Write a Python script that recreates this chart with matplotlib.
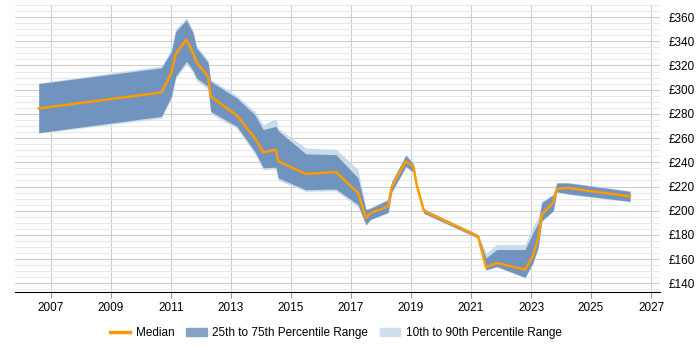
import matplotlib
matplotlib.use('Agg')
import matplotlib.pyplot as plt
from matplotlib.patches import Patch
from matplotlib.lines import Line2D
from matplotlib.ticker import MultipleLocator, FuncFormatter

plt.rcParams['font.family'] = ['Liberation Sans', 'DejaVu Sans']

# fractional years
years = [2006.6, 2010.69, 2011.02, 2011.16, 2011.52, 2011.74, 2011.86, 2012.24,
         2012.33, 2013.2, 2013.8, 2014.08, 2014.5, 2014.58, 2015.5, 2016.5,
         2017.24, 2017.5, 2017.66, 2018.24, 2018.36, 2018.83, 2019.08, 2019.19,
         2019.43, 2021.24, 2021.5, 2021.86, 2022.8, 2023.06, 2023.24, 2023.36,
         2023.74, 2023.86, 2024.24, 2026.3]
median = [284.5, 297.7, 313.7, 329.4, 341.3, 330.3, 322.5, 311, 294.4, 278.7,
          260, 248.2, 250.4, 240.8, 230.4, 232, 214.7, 194, 198.2, 203.6, 220,
          240.8, 236.6, 221.6, 200, 178.8, 153.3, 156.9, 151.4, 162.5, 177.5,
          196.8, 207, 218, 218.8, 211.9]
p25 = [264.5, 278, 294.5, 311, 323.5, 316, 309.6, 302.7, 282, 269.7, 249, 235.5,
       236, 227, 217.4, 218, 205, 188.5, 193, 198.7, 215.6, 236.7, 232, 219, 198,
       177.5, 151.3, 154, 145, 157, 170, 191.8, 200, 215.7, 214, 207.8]
p75 = [305, 318, 331.5, 348, 357.5, 347, 334.4, 322.5, 306.8, 293.1, 279.3, 267,
       269.7, 266, 247, 246.3, 227, 200.9, 202, 209.1, 224, 245.8, 238.5, 223,
       201.3, 180, 161, 168, 168, 181.6, 190, 206.8, 213, 222.9, 222.9, 216]
p10 = [264, 276.5, 292.5, 309, 321, 314, 307.5, 300.5, 280, 268, 247, 234, 234.5,
       225, 216, 216.5, 203, 188, 192.5, 198.2, 215, 236, 231.5, 218.5, 197.5,
       177, 150.8, 153.5, 144.5, 156, 169, 191, 199.5, 215.2, 213.5, 207.3]
p90 = [305.5, 319.5, 333.5, 350, 359.5, 349, 336, 324.5, 308.5, 295, 282, 271,
       276, 268, 251.8, 250.8, 233.9, 201.5, 203, 209.6, 224.5, 246.5, 239, 223.5,
       201.8, 180.5, 165, 172, 172, 187, 194, 208, 214, 223.4, 223.4, 216.5]

xticks = list(range(2007, 2028, 2))

fig = plt.figure(figsize=(7, 3.5), dpi=100)
ax = fig.add_axes([0.021, 0.166, 0.922, 0.82])

ax.fill_between(years, p10, p90, color='#c9daeb', linewidth=0)
ax.fill_between(years, p25, p75, color='#7094bd', linewidth=0)
ax.plot(years, median, color='#ff9a00', linewidth=1.8)

ax.set_xlim(2005.8, 2027.3)
ax.set_ylim(133, 370)
ax.set_xticks(xticks)
ax.yaxis.set_major_locator(MultipleLocator(20))
ax.yaxis.set_minor_locator(MultipleLocator(5))
ax.yaxis.set_major_formatter(FuncFormatter(lambda v, p: '£%d' % v))
ax.yaxis.tick_right()
ax.set_yticks([v for v in range(140, 361, 20)])

ax.grid(axis='x', color='#cccccc', linewidth=0.8)
ax.grid(axis='y', which='major', color='#cccccc', linewidth=0.8)
ax.grid(axis='y', which='minor', color='#e8e8e8', linewidth=0.8)
ax.set_axisbelow(True)

for s in ['top', 'right', 'left']:
    ax.spines[s].set_visible(False)
ax.spines['bottom'].set_color('black')
ax.tick_params(axis='y', which='both', length=0, labelsize=8.5, pad=6)
ax.tick_params(axis='x', length=4, color='#999999', labelsize=8.5)

handles = [Line2D([0], [0], color='#ff9a00', linewidth=2.5),
           Patch(color='#85a3c4'), Patch(color='#cfdfee')]
labels = ['Median', '25th to 75th Percentile Range', '10th to 90th Percentile Range']
fig.legend(handles, labels, loc='lower center', ncol=3, frameon=False,
           fontsize=8.5, bbox_to_anchor=(0.48, 0.0), handlelength=1.7,
           handletextpad=0.5, columnspacing=1.0)

fig.savefig('out.png', dpi=100)
